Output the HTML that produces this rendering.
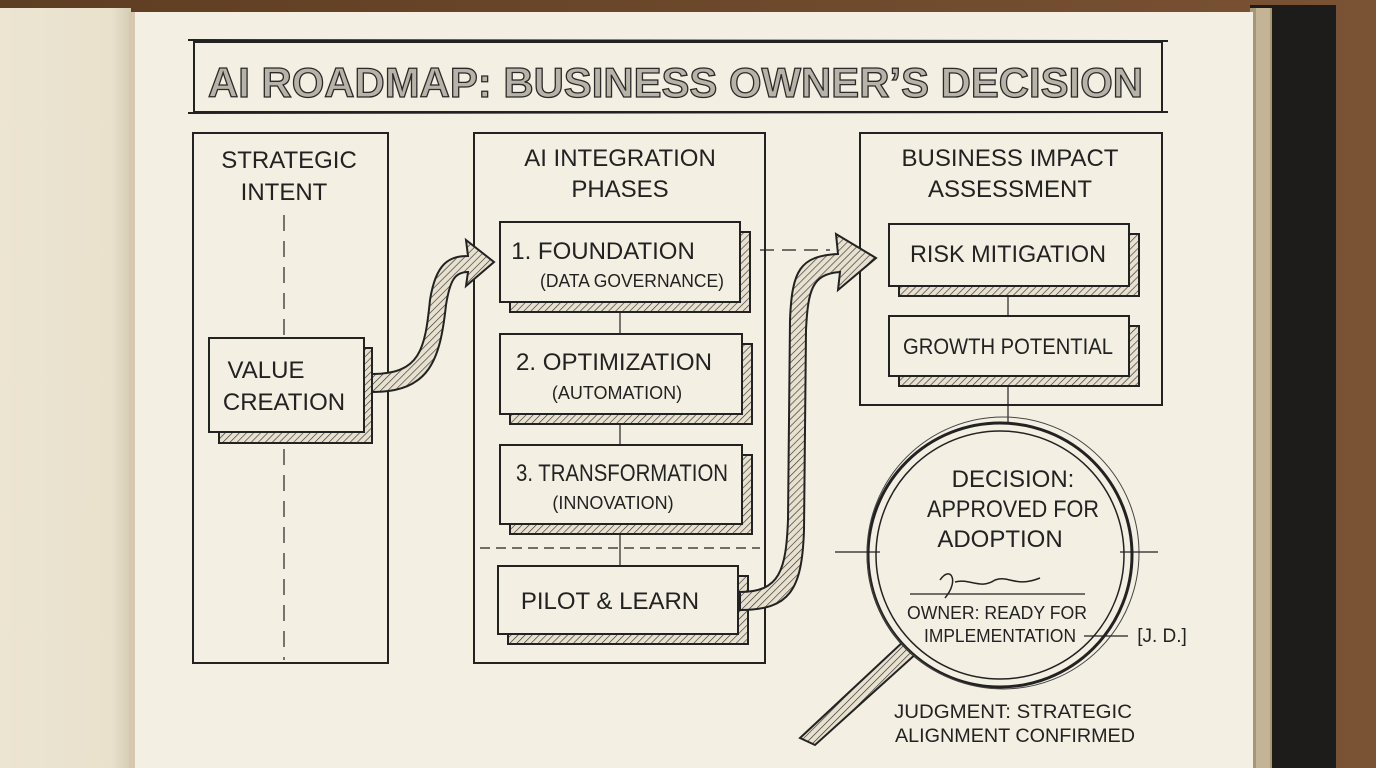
<!DOCTYPE html>
<html><head><meta charset="utf-8"><style>
html,body{margin:0;padding:0;width:1376px;height:768px;overflow:hidden;background:#6b4a2e}
svg{display:block}
text{font-family:"Liberation Sans",sans-serif;fill:#222}
</style></head><body>
<svg width="1376" height="768" viewBox="0 0 1376 768" xmlns="http://www.w3.org/2000/svg">
<defs>
<pattern id="h" width="5" height="5" patternUnits="userSpaceOnUse" patternTransform="rotate(45)">
<rect width="5" height="5" fill="#e8e1cf"/><line x1="0" y1="0" x2="0" y2="5" stroke="#333" stroke-width="1.3"/></pattern>
<linearGradient id="wood" x1="0" x2="1"><stop offset="0" stop-color="#5e3d22"/><stop offset="1" stop-color="#7a5234"/></linearGradient>
<linearGradient id="lp" x1="0" x2="1"><stop offset="0" stop-color="#ece5d2"/><stop offset="0.85" stop-color="#e9e1cc"/><stop offset="1" stop-color="#d6ccb4"/></linearGradient>
</defs>
<rect width="1376" height="768" fill="url(#wood)"/>
<rect x="1250" y="5" width="86" height="763" fill="#1d1c1b"/>
<rect x="1250" y="8" width="22" height="760" fill="#a89678"/>
<rect x="1256" y="8" width="14" height="760" fill="#c4b496"/>
<rect x="0" y="8" width="131" height="760" fill="url(#lp)"/>
<rect x="131" y="12" width="1122" height="756" fill="#f3efe3"/>
<rect x="129" y="12" width="6" height="756" fill="#d4c9b0"/>

<g fill="none" stroke="#222" stroke-width="2">
<rect x="194" y="42" width="968" height="70"/>
<line x1="188" y1="40" x2="1168" y2="41"/><line x1="188" y1="113" x2="1168" y2="112"/>
<rect x="193" y="133" width="195" height="530"/>
<rect x="474" y="133" width="291" height="530"/>
<rect x="860" y="133" width="302" height="272"/>
<line x1="284" y1="215" x2="284" y2="660" stroke-dasharray="16 10" stroke-width="1.2"/>
<line x1="620" y1="302" x2="620" y2="334" stroke-width="1.2"/>
<line x1="620" y1="414" x2="620" y2="445" stroke-width="1.2"/>
<line x1="620" y1="524" x2="620" y2="566" stroke-width="1.2"/>
<line x1="480" y1="548" x2="760" y2="548" stroke-dasharray="10 6" stroke-width="1.2"/>
<line x1="760" y1="250" x2="830" y2="250" stroke-dasharray="14 8" stroke-width="1.2"/>
<line x1="1008" y1="286" x2="1008" y2="316" stroke-width="1.2"/>
<line x1="1008" y1="376" x2="1008" y2="430" stroke-width="1.2"/>
</g>

<g stroke="#222" stroke-width="2">
<rect x="219" y="348" width="153" height="95" fill="url(#h)"/>
<rect x="209" y="338" width="155" height="94" fill="#f3efe3"/>
<rect x="510" y="232" width="240" height="80" fill="url(#h)"/>
<rect x="500" y="222" width="240" height="80" fill="#f3efe3"/>
<rect x="510" y="344" width="242" height="80" fill="url(#h)"/>
<rect x="500" y="334" width="242" height="80" fill="#f3efe3"/>
<rect x="510" y="455" width="242" height="79" fill="url(#h)"/>
<rect x="500" y="445" width="242" height="79" fill="#f3efe3"/>
<rect x="508" y="576" width="240" height="68" fill="url(#h)"/>
<rect x="498" y="566" width="240" height="68" fill="#f3efe3"/>
<rect x="899" y="234" width="240" height="62" fill="url(#h)"/>
<rect x="889" y="224" width="240" height="62" fill="#f3efe3"/>
<rect x="899" y="326" width="240" height="60" fill="url(#h)"/>
<rect x="889" y="316" width="240" height="60" fill="#f3efe3"/>
</g>

<path d="M372,374 C420,374 425,350 430,300 C436,262 450,256 468,256 L466,240 L494,262 L466,286 L468,272 C455,272 450,280 446,305 C440,360 430,392 372,392 Z" fill="url(#h)" stroke="#222" stroke-width="2"/>
<path d="M740,592 C780,592 786,570 788,520 L790,320 C792,270 800,256 838,254 L836,234 L876,258 L838,290 L840,272 C812,274 808,290 806,330 L804,530 C802,590 790,610 740,610 Z" fill="url(#h)" stroke="#222" stroke-width="2"/>

<path d="M905,640 L800,738 L815,745 L918,652 Z" fill="url(#h)" stroke="#222" stroke-width="2"/>
<circle cx="1000" cy="555" r="132" fill="#f3efe3" stroke="#222" stroke-width="3"/>
<circle cx="1000" cy="555" r="124" fill="none" stroke="#222" stroke-width="1.5"/>
<circle cx="1003" cy="553" r="136" fill="none" stroke="#444" stroke-width="1"/>
<g stroke="#222" stroke-width="1.2">
<line x1="835" y1="552" x2="880" y2="552"/><line x1="1120" y1="552" x2="1158" y2="552"/>
<line x1="1084" y1="636" x2="1128" y2="636"/>
<line x1="910" y1="594" x2="1085" y2="594"/>
</g>
<path d="M940,580 C950,565 960,580 945,598 M955,582 C970,578 980,590 995,580 C1010,575 1015,588 1040,578" fill="none" stroke="#222" stroke-width="1.5"/>

<text x="208" y="97" font-size="42" font-weight="bold" textLength="935" lengthAdjust="spacingAndGlyphs" style="fill:#b8b3a8;stroke:#2a2a2a;stroke-width:1.3px">AI ROADMAP: BUSINESS OWNER’S DECISION</text>
<g font-size="24" text-anchor="middle">
<text x="289" y="168">STRATEGIC</text><text x="284" y="200">INTENT</text>
<text x="620" y="166">AI INTEGRATION</text><text x="620" y="197">PHASES</text>
<text x="1010" y="166">BUSINESS IMPACT</text><text x="1010" y="197">ASSESSMENT</text>
<text x="266" y="378">VALUE</text><text x="284" y="410">CREATION</text>
<text x="603" y="259">1. FOUNDATION</text><text x="632" y="287" font-size="18" textLength="184" lengthAdjust="spacingAndGlyphs">(DATA GOVERNANCE)</text>
<text x="614" y="370" textLength="196" lengthAdjust="spacingAndGlyphs">2. OPTIMIZATION</text><text x="617" y="399" font-size="18">(AUTOMATION)</text>
<text x="622" y="481" textLength="212" lengthAdjust="spacingAndGlyphs">3. TRANSFORMATION</text><text x="613" y="509" font-size="18">(INNOVATION)</text>
<text x="610" y="609">PILOT &amp; LEARN</text>
<text x="1008" y="262" textLength="196" lengthAdjust="spacingAndGlyphs">RISK MITIGATION</text>
<text x="1008" y="354" font-size="22" textLength="210" lengthAdjust="spacingAndGlyphs">GROWTH POTENTIAL</text>
<text x="1013" y="487">DECISION:</text>
<text x="1013" y="517" textLength="172" lengthAdjust="spacingAndGlyphs">APPROVED FOR</text>
<text x="1000" y="547">ADOPTION</text>
<text x="997" y="619" font-size="18" textLength="180" lengthAdjust="spacingAndGlyphs">OWNER: READY FOR</text>
<text x="1000" y="642" font-size="18" textLength="152" lengthAdjust="spacingAndGlyphs">IMPLEMENTATION</text>
<text x="1162" y="642" font-size="19">[J. D.]</text>
<text x="1013" y="718" font-size="19" textLength="238" lengthAdjust="spacingAndGlyphs">JUDGMENT: STRATEGIC</text>
<text x="1015" y="742" font-size="19" textLength="240" lengthAdjust="spacingAndGlyphs">ALIGNMENT CONFIRMED</text>
</g>
</svg>
</body></html>
